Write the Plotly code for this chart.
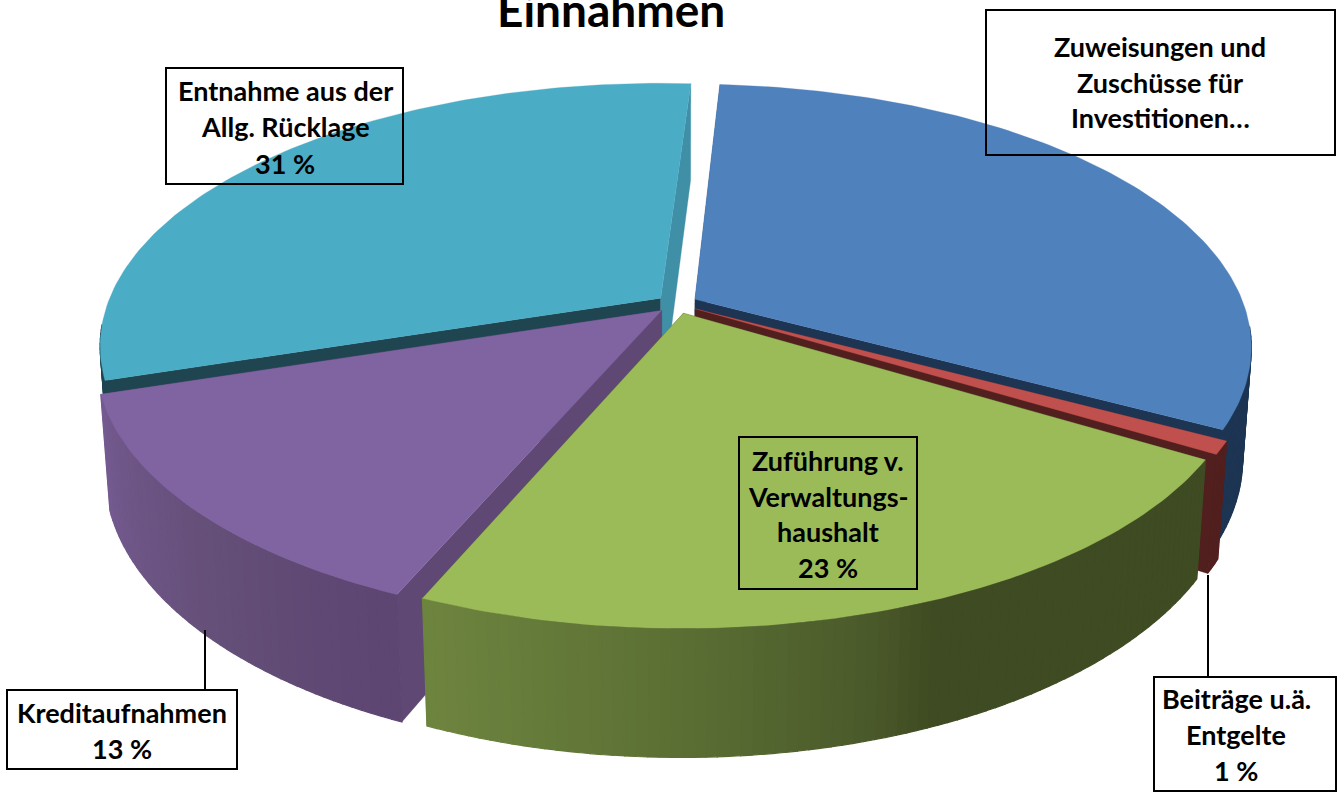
import numpy as np
import plotly.graph_objects as go

# ---- data ----
categories = ["Zuweisungen und Zuschüsse für Investitionen", "Beiträge u.ä. Entgelte",
              "Zuführung v. Verwaltungshaushalt", "Kreditaufnahmen", "Entnahme aus der Allg. Rücklage"]
values = [31.9, 0.8, 22.8, 13.6, 30.9]

# ---- style ----
top_colors = ["#4f81bd", "#c0504d", "#9bbb59", "#8064a2", "#4bacc6"]
cut_start_colors = ["#27496f", "#511f1e", "#3f4b22", "#5f4974", "#1f4551"]
cut_end_colors = ["#1d3553", "#511f1e", "#3f4b22", "#5f4974", "#3f90a7"]
wall_stops = [
    [(0, "#1d3553"), (360, "#1d3553")],
    [(0, "#511f1e"), (360, "#511f1e")],
    [(0, "#3f4b22"), (158, "#3f4b22"), (164, "#4b5a2b"), (180, "#5b6f34"), (204, "#6f8640"), (360, "#6f8640")],
    [(0, "#5d4672"), (204, "#5d4672"), (225, "#655079"), (252, "#755b91"), (360, "#755b91")],
    [(0, "#1f4551"), (360, "#1f4551")],
]
start_angle = 3.4
explode = 0.0375
draw_order = [4, 0, 3, 1, 2]

# projection of the tilted pie
CX, CY, A, B, H = 677.0, 304.0, 551.0, 255.2, 112.0
K, J, M = 0.1787, 0.004, 0.015


def project(u, v, z):
    w = 1 + K * v + J * u + M * z
    return CX + A * u / w, CY + (-B * v + H * z) / w


def hex_rgb(c):
    return np.array([int(c[i:i + 2], 16) for i in (1, 3, 5)], float)


def stop_color(stops, t):
    ts = [s[0] for s in stops]
    cols = np.array([hex_rgb(s[1]) for s in stops])
    return "rgb(%d,%d,%d)" % tuple(np.interp(t, ts, cols[:, i]) for i in range(3))


def poly(xs, ys, color, lw=0.6):
    return go.Scatter(x=list(xs) + [xs[0]], y=list(ys) + [ys[0]], mode="lines", fill="toself",
                      fillcolor=color, line=dict(color=color, width=lw),
                      hoverinfo="skip", showlegend=False)


fracs = np.array(values) / sum(values) * 360
starts = start_angle + np.concatenate([[0], np.cumsum(fracs)[:-1]])
fig = go.Figure()

for i in draw_order:
    a0, a1 = starts[i], starts[i] + fracs[i]
    mid = np.radians((a0 + a1) / 2)
    ox, oy = explode * np.sin(mid), explode * np.cos(mid)
    n = max(3, int(fracs[i] / 1.0))
    ts = np.linspace(a0, a1, n + 1)
    us = ox + np.sin(np.radians(ts))
    vs = oy + np.cos(np.radians(ts))
    # radial cut walls first; the outer wall and the top face lie over them
    for (ue, ve, col) in ((us[0], vs[0], cut_start_colors[i]), (us[-1], vs[-1], cut_end_colors[i])):
        p = [project(ox, oy, 0), project(ue, ve, 0), project(ue, ve, 1), project(ox, oy, 1)]
        fig.add_trace(poly([q[0] for q in p], [q[1] for q in p], col, 0.3))
    # outer wall, in narrow shaded bands (front part only: the rear is hidden)
    for j in range(n):
        tm = (ts[j] + ts[j + 1]) / 2
        if np.cos(np.radians(tm)) > -0.1:
            continue
        xa, ya = project(us[j], vs[j], 0)
        xb, yb = project(us[j + 1], vs[j + 1], 0)
        xc, yc = project(us[j + 1], vs[j + 1], 1)
        xd, yd = project(us[j], vs[j], 1)
        fig.add_trace(poly([xa, xb, xc, xd], [ya, yb, yc, yd], stop_color(wall_stops[i], tm % 360), 1.2))
    # top face
    px, py = project(np.r_[ox, us], np.r_[oy, vs], 0)
    fig.add_trace(poly(px, py, top_colors[i], 0.3))

# ---- labels ----
title_text = "Einnahmen"
boxes = [(166, 68, 403, 184), (986, 10, 1335, 155), (739, 437, 917, 589), (7, 690, 237, 769), (1154, 677, 1336, 791)]
box_lines = [
    ["Entnahme aus der", "Allg. Rücklage", "31 %"],
    ["Zuweisungen und", "Zuschüsse für", "Investitionen…"],
    ["Zuführung v.", "Verwaltungs-", "haushalt", "23 %"],
    ["Kreditaufnahmen", "13 %"],
    ["Beiträge u.ä.", "Entgelte", "1 %"],
]
box_line_y = [[90, 126, 163], [46, 82, 117], [460, 496, 531, 567], [712, 748], [698, 734, 770]]
box_text_x = [285, 1160, 828, 122, 1236]
leaders = [(1208, 575, 1208, 677), (205, 630, 205, 690)]

FONT = "Lato, Carlito, sans-serif"
for (x0, y0, x1, y1) in boxes:
    fig.add_shape(type="rect", x0=x0, y0=y0, x1=x1, y1=y1, xref="x", yref="y",
                  line=dict(color="black", width=2), fillcolor="rgba(0,0,0,0)", layer="above")
for (x0, y0, x1, y1) in leaders:
    fig.add_shape(type="line", x0=x0, y0=y0, x1=x1, y1=y1, xref="x", yref="y",
                  line=dict(color="black", width=2), layer="above")
for lines, ys, tx in zip(box_lines, box_line_y, box_text_x):
    for t, y in zip(lines, ys):
        fig.add_annotation(x=tx, y=y, text="<b>%s</b>" % t, showarrow=False, xanchor="center", yanchor="middle",
                           font=dict(family=FONT, size=27, color="black"))
fig.add_annotation(x=611, y=9, text="<b>%s</b>" % title_text, showarrow=False, xanchor="center", yanchor="middle",
                   font=dict(family=FONT, size=46, color="black"))

fig.update_layout(width=1338, height=792, margin=dict(l=0, r=0, t=0, b=0),
                  paper_bgcolor="white", plot_bgcolor="white", showlegend=False,
                  xaxis=dict(range=[0, 1338], visible=False, fixedrange=True),
                  yaxis=dict(range=[792, 0], visible=False, fixedrange=True))
fig.write_html("out.html", config={"displayModeBar": False},
               post_script="document.body.style.margin='0';document.body.style.overflow='hidden';")
